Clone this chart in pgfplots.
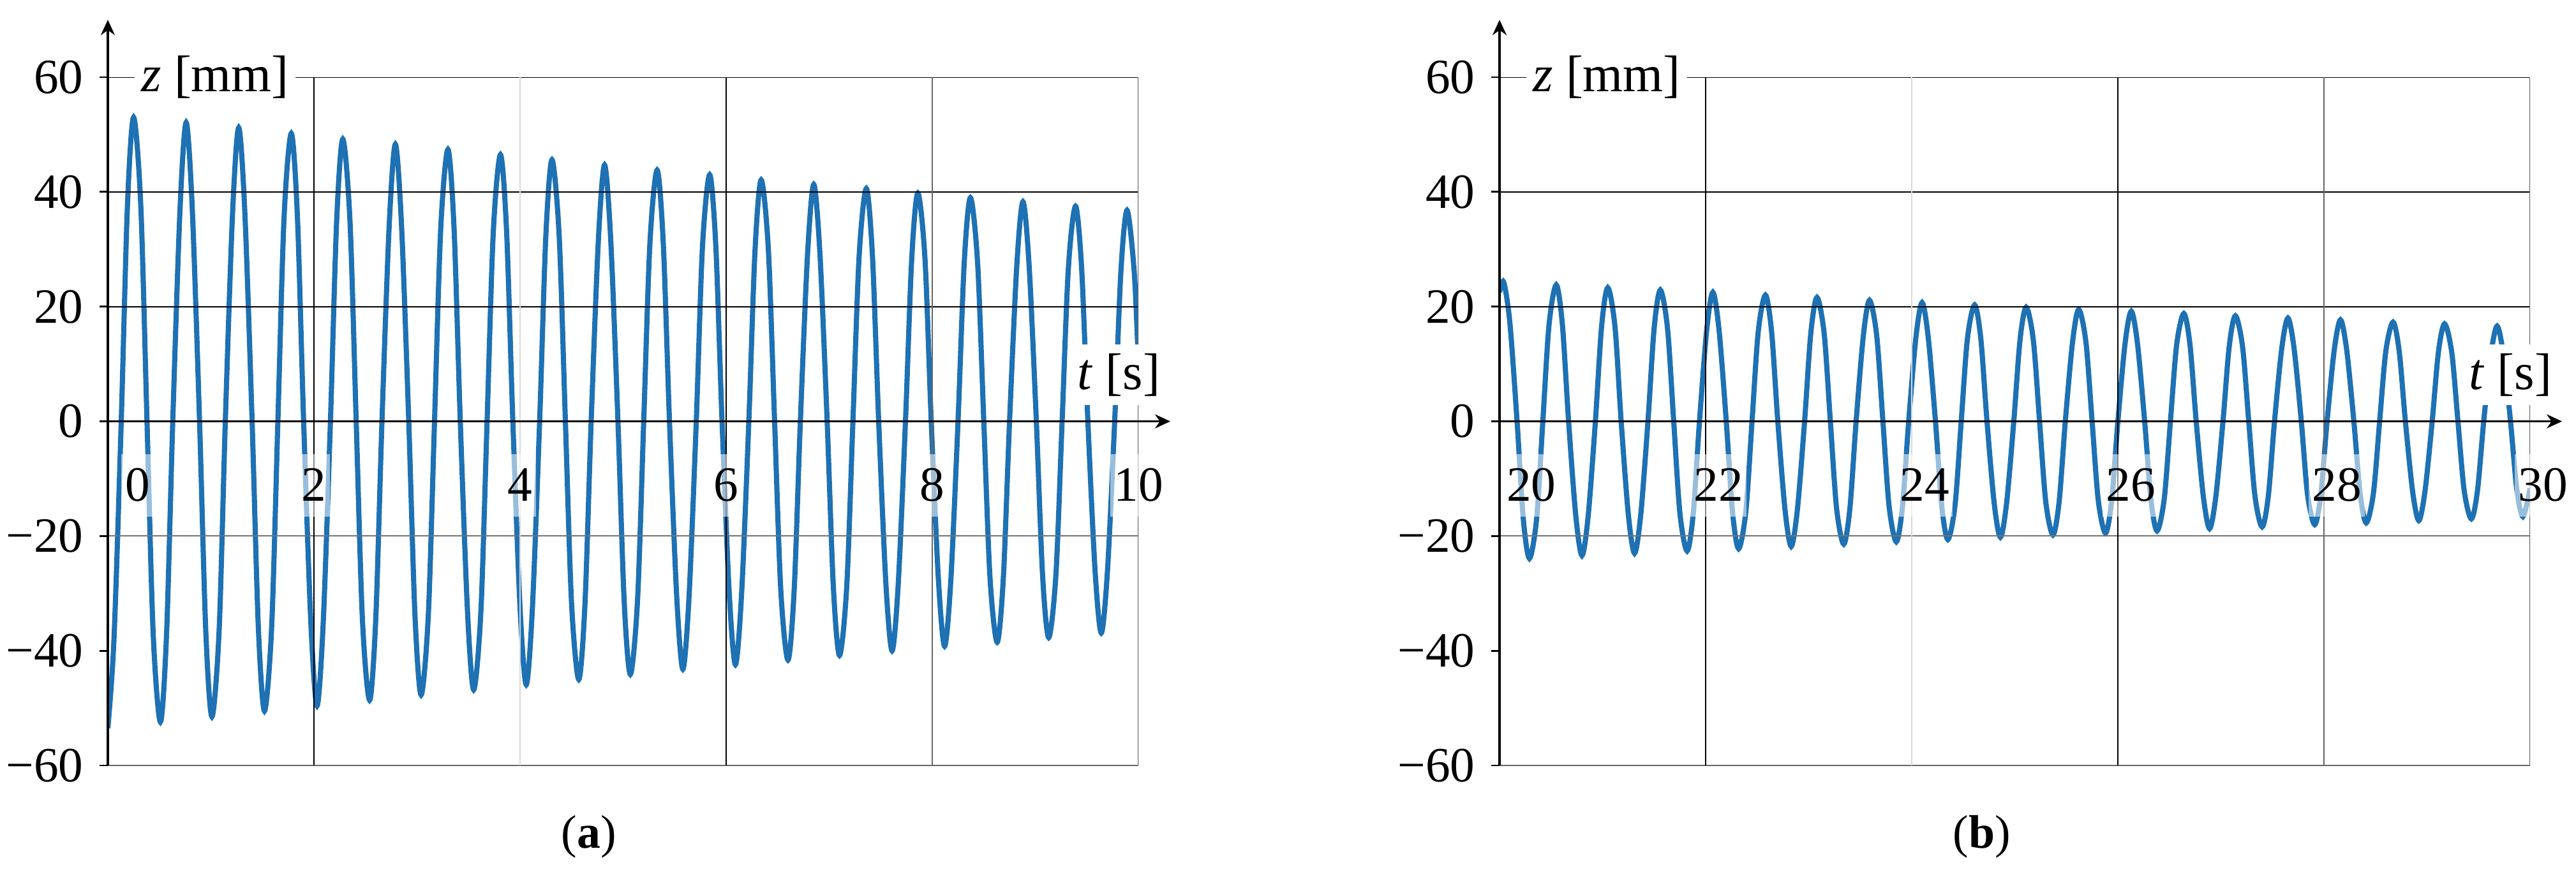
\documentclass[border=0pt]{standalone}
\usepackage{fontspec}
\setmainfont{Liberation Serif}
\usepackage{pgfplots}
\pgfplotsset{compat=1.18}
\usepackage{pgfplotstable}
\usetikzlibrary{arrows.meta}

\definecolor{curveblue}{RGB}{30,113,179}

% z(t): troughs, peaks and the points between them
\pgfplotstableread{
t z
0.00 -53.5
0.06 -37.8
0.13 0
0.19 37.5
0.25 53.0
0.32 37.5
0.38 0
0.44 -37.0
0.51 -52.4
0.57 -37.0
0.63 0
0.70 36.8
0.76 52.1
0.82 36.8
0.89 0
0.95 -36.4
1.01 -51.5
1.08 -36.4
1.14 0
1.21 36.2
1.27 51.2
1.33 36.2
1.40 0
1.46 -35.7
1.52 -50.5
1.59 -35.7
1.65 0
1.71 35.5
1.78 50.2
1.84 35.5
1.90 0
1.97 -35.1
2.03 -49.6
2.09 -35.1
2.16 0
2.22 34.8
2.28 49.2
2.35 34.8
2.41 0
2.47 -34.4
2.54 -48.6
2.60 -34.4
2.66 0
2.73 34.1
2.79 48.3
2.85 34.1
2.92 0
2.98 -33.7
3.04 -47.7
3.11 -33.7
3.17 0
3.23 33.5
3.30 47.4
3.36 33.5
3.42 0
3.49 -33.1
3.55 -46.8
3.62 -33.1
3.68 0
3.74 32.9
3.81 46.5
3.87 32.9
3.93 0
4.00 -32.5
4.06 -45.9
4.12 -32.5
4.19 0
4.25 32.2
4.31 45.6
4.38 32.2
4.44 0
4.50 -31.8
4.57 -45.0
4.63 -31.8
4.69 0
4.76 31.6
4.82 44.7
4.88 31.6
4.95 0
5.01 -31.2
5.07 -44.1
5.14 -31.2
5.20 0
5.26 31.0
5.33 43.8
5.39 31.0
5.45 0
5.52 -30.5
5.58 -43.2
5.64 -30.5
5.71 0
5.77 30.4
5.84 43.0
5.90 30.4
5.96 0
6.03 -30.0
6.09 -42.4
6.15 -30.0
6.22 0
6.28 29.8
6.34 42.1
6.41 29.8
6.47 0
6.53 -29.4
6.60 -41.6
6.66 -29.4
6.72 0
6.79 29.2
6.85 41.3
6.91 29.2
6.98 0
7.04 -28.8
7.10 -40.8
7.17 -28.8
7.23 0
7.29 28.7
7.36 40.6
7.42 28.7
7.48 0
7.55 -28.3
7.61 -40.0
7.67 -28.3
7.74 0
7.80 28.1
7.86 39.8
7.93 28.1
7.99 0
8.06 -27.7
8.12 -39.2
8.18 -27.7
8.25 0
8.31 27.6
8.37 39.0
8.44 27.6
8.50 0
8.56 -27.2
8.63 -38.5
8.69 -27.2
8.75 0
8.82 27.1
8.88 38.3
8.94 27.1
9.01 0
9.07 -26.7
9.13 -37.7
9.20 -26.7
9.26 0
9.32 26.5
9.39 37.5
9.45 26.5
9.51 0
9.58 -26.1
9.64 -36.9
9.70 -26.1
9.77 0
9.83 26.0
9.89 36.8
9.96 26.0
10.00 10.0
}\dataA

% panel (b), t = 20 ... 30 s
\pgfplotstableread{
t z
20.00 22.5
20.04 24.3
20.10 17.2
20.17 0
20.23 -16.9
20.29 -23.9
20.36 -16.9
20.42 0
20.48 16.8
20.55 23.8
20.61 16.8
20.67 0
20.74 -16.5
20.80 -23.4
20.86 -16.5
20.93 0
20.99 16.5
21.05 23.3
21.12 16.5
21.18 0
21.25 -16.3
21.31 -23.0
21.37 -16.3
21.44 0
21.50 16.2
21.56 22.9
21.63 16.2
21.69 0
21.75 -16.0
21.82 -22.6
21.88 -16.0
21.94 0
22.01 15.9
22.07 22.5
22.13 15.9
22.20 0
22.26 -15.7
22.32 -22.2
22.39 -15.7
22.45 0
22.51 15.6
22.58 22.0
22.64 15.6
22.70 0
22.77 -15.4
22.83 -21.8
22.89 -15.4
22.96 0
23.02 15.3
23.08 21.6
23.15 15.3
23.21 0
23.27 -15.1
23.34 -21.4
23.40 -15.1
23.46 0
23.53 14.9
23.59 21.1
23.66 14.9
23.72 0
23.78 -14.8
23.85 -21.0
23.91 -14.8
23.97 0
24.04 14.6
24.10 20.7
24.16 14.6
24.23 0
24.29 -14.6
24.35 -20.6
24.42 -14.6
24.48 0
24.54 14.4
24.61 20.3
24.67 14.4
24.73 0
24.80 -14.3
24.86 -20.2
24.92 -14.3
24.99 0
25.05 14.1
25.11 19.9
25.18 14.1
25.24 0
25.30 -14.0
25.37 -19.8
25.43 -14.0
25.49 0
25.56 13.8
25.62 19.5
25.69 13.8
25.75 0
25.81 -13.8
25.88 -19.5
25.94 -13.8
26.00 0
26.07 13.6
26.13 19.2
26.19 13.6
26.26 0
26.32 -13.5
26.38 -19.1
26.45 -13.5
26.51 0
26.57 13.3
26.64 18.8
26.70 13.3
26.76 0
26.83 -13.2
26.89 -18.7
26.95 -13.2
27.02 0
27.08 13.0
27.14 18.4
27.21 13.0
27.27 0
27.33 -13.0
27.40 -18.4
27.46 -13.0
27.52 0
27.59 12.7
27.65 18.0
27.71 12.7
27.78 0
27.84 -12.7
27.91 -18.0
27.97 -12.7
28.03 0
28.10 12.5
28.16 17.7
28.22 12.5
28.29 0
28.35 -12.5
28.41 -17.7
28.48 -12.5
28.54 0
28.60 12.2
28.67 17.3
28.73 12.2
28.79 0
28.86 -12.2
28.92 -17.3
28.98 -12.2
29.05 0
29.11 12.0
29.17 17.0
29.24 12.0
29.30 0
29.36 -12.0
29.43 -17.0
29.49 -12.0
29.55 0
29.62 11.7
29.68 16.6
29.74 11.7
29.81 0
29.87 -11.7
29.93 -16.6
30.00 -11.7
}\dataB

\pgfplotsset{
  osc/.style={
    scale only axis,
    width=80.75mm, height=53.95mm,
    anchor=south west,
    axis x line=middle,
    axis y line=left,
    axis on top,
    ymin=-60, ymax=60,
    ytick={-60,-40,-20,0,20,40,60},
    yticklabels={−60,−40,−20,0,20,40,60},
    tick align=outside,
    major tick length=0.65mm,
    ytick style={black, line width=0.4pt},
    xtick style={draw=none},
    axis line style={black, line width=0.5pt},
    x axis line style={-{Stealth[length=1.2mm,width=1.1mm]}, shorten >=-2.5mm},
    y axis line style={-{Stealth[length=1.2mm,width=1.1mm]}, shorten >=-4.5mm},
    tick label style={font=\fontsize{11}{13}\selectfont},
    yticklabel style={anchor=east, inner sep=0pt, xshift=-1.2mm},
    xticklabel style={anchor=north, yshift=-1.85mm, fill=white, fill opacity=0.55,
      text opacity=1, inner xsep=0.8pt, inner ysep=0pt, text height=10.4pt, text depth=3.5pt},
    extra x tick style={grid=none, xtick style={draw=none}},
    every axis x label/.style={at={(rel axis cs:0.981,0.5675)}, anchor=center,
      fill=white, inner sep=2pt, font=\fontsize{11.5}{13}\selectfont},
    every axis y label/.style={at={(rel axis cs:0.104,1.0)}, anchor=center,
      fill=white, inner xsep=1.5pt, inner ysep=1pt, font=\fontsize{11.5}{13}\selectfont},
    xlabel={\textit{t} [s]},
    ylabel={\textit{z} [mm]},
  },
  zline/.style={curveblue, line width=1.15pt, smooth, no markers},
}

\begin{document}
\begin{tikzpicture}
\path[use as bounding box] (0,0) rectangle (201.85mm,68.85mm);

% (a)
\begin{axis}[osc, at={(8.45mm,8.85mm)},
    xmin=0, xmax=10,
    xtick={2,4,6,8,10}, xticklabels={2,4,6,8,10},
    extra x ticks={0}, extra x tick labels={0},
    extra x tick style={xticklabel style={anchor=north west, xshift=1.0mm}},
]
\addplot[zline] table[x=t, y=z] {\dataA};
\draw[black, line width=0.3pt] (axis cs:0,60) -- (axis cs:10,60);
\draw[black, line width=0.3pt] (axis cs:0,40) -- (axis cs:10,40);
\draw[black, line width=0.3pt] (axis cs:0,20) -- (axis cs:10,20);
\draw[black!55, line width=0.3pt] (axis cs:0,-20) -- (axis cs:10,-20);
\draw[black!60, line width=0.4pt] (axis cs:0,-60) -- (axis cs:10,-60);
\draw[black, line width=0.3pt] (axis cs:2,-60) -- (axis cs:2,60);
\draw[black!15, line width=0.3pt] (axis cs:4,-60) -- (axis cs:4,60);
\draw[black, line width=0.3pt] (axis cs:6,-60) -- (axis cs:6,60);
\draw[black!60, line width=0.3pt] (axis cs:8,-60) -- (axis cs:8,60);
\draw[black!60, line width=0.3pt] (axis cs:10,-60) -- (axis cs:10,60);
\end{axis}

% (b)
\begin{axis}[osc, at={(117.5mm,8.85mm)},
    xmin=20, xmax=30,
    xtick={22,24,26,28,30}, xticklabels={22,24,26,28,30},
    xticklabel style={xshift=1.0mm},
    extra x ticks={20}, extra x tick labels={20},
    extra x tick style={xticklabel style={anchor=north west, xshift=-0.8mm}},
]
\addplot[zline] table[x=t, y=z] {\dataB};
\draw[black, line width=0.3pt] (axis cs:20,60) -- (axis cs:30,60);
\draw[black, line width=0.3pt] (axis cs:20,40) -- (axis cs:30,40);
\draw[black, line width=0.3pt] (axis cs:20,20) -- (axis cs:30,20);
\draw[black!55, line width=0.3pt] (axis cs:20,-20) -- (axis cs:30,-20);
\draw[black!60, line width=0.4pt] (axis cs:20,-60) -- (axis cs:30,-60);
\draw[black, line width=0.3pt] (axis cs:22,-60) -- (axis cs:22,60);
\draw[black!15, line width=0.3pt] (axis cs:24,-60) -- (axis cs:24,60);
\draw[black, line width=0.3pt] (axis cs:26,-60) -- (axis cs:26,60);
\draw[black!60, line width=0.3pt] (axis cs:28,-60) -- (axis cs:28,60);
\draw[black!60, line width=0.3pt] (axis cs:30,-60) -- (axis cs:30,60);
\end{axis}

\node[font=\fontsize{10.5}{12}\selectfont] at (46.15mm,3.25mm) {(\textbf{a})};
\node[font=\fontsize{10.5}{12}\selectfont] at (155.3mm,3.25mm) {(\textbf{b})};
\end{tikzpicture}
\end{document}
